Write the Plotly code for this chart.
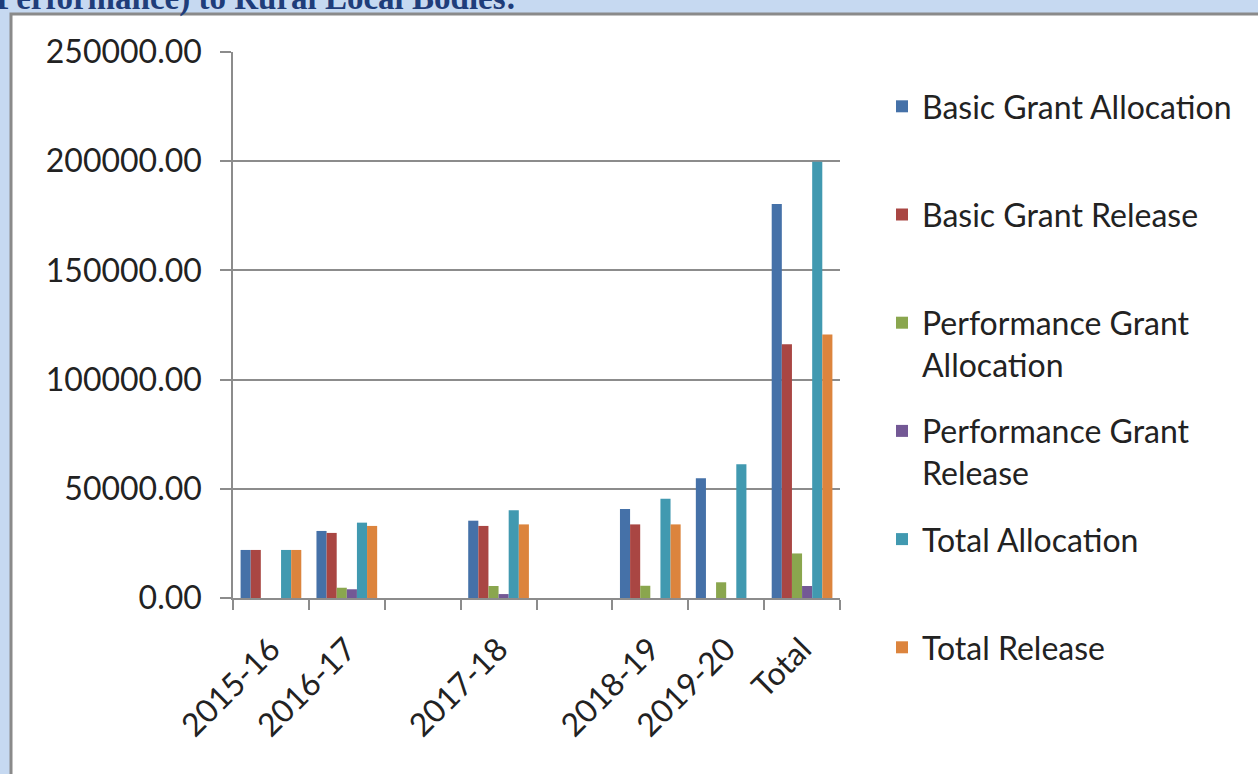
import plotly.graph_objects as go

# ---- data ----
categories = ["2015-16", "2016-17", " ", "2017-18", "  ", "2018-19", "2019-20", "Total"]
basic_alloc = [22000, 30700, None, 35400, None, 40750, 54800, 180400]
basic_release = [22000, 29800, None, 33000, None, 33700, None, 116200]
perf_alloc = [None, 4700, None, 5500, None, 5600, 7200, 20400]
perf_release = [None, 4000, None, 1800, None, None, None, 5500]
total_alloc = [22000, 34500, None, 40200, None, 45500, 61200, 199700]
total_release = [22000, 33000, None, 33700, None, 33700, None, 120700]

series_names = [
    "Basic Grant Allocation<br> ",
    "Basic Grant Release<br> ",
    "Performance Grant<br>Allocation",
    "Performance Grant<br>Release",
    "Total Allocation<br> ",
    "Total Release<br> ",
]
series_values = [basic_alloc, basic_release, perf_alloc, perf_release, total_alloc, total_release]
colors = ["#4571A8", "#A94643", "#8AA64E", "#735895", "#4199B0", "#DC843D"]

# ---- geometry of the plot area (pixels) ----
W, H = 1258, 774
PL, PR, PT, PB = 233, 840, 52, 598
pw, ph = PR - PL, PB - PT

def px_x(p):
    return (p - PL) / pw

def px_y(p):
    return (PB - p) / ph

FONT = "Lato"
FS = 32
fig = go.Figure()
for name, vals, col in zip(series_names, series_values, colors):
    fig.add_trace(go.Bar(
        x=categories, y=vals, name=name,
        marker=dict(color=col, line=dict(width=0)),
        legendgroup=name,
    ))

# white panel with gray border
fig.add_shape(type="rect", xref="paper", yref="paper",
              x0=px_x(11), x1=px_x(1275), y0=px_y(790), y1=px_y(14),
              fillcolor="white", line=dict(color="#8a8a8a", width=3), layer="below")

# cut-off heading at the top of the page
fig.add_annotation(xref="paper", yref="paper", x=px_x(-6), y=px_y(12),
                   xanchor="left", yanchor="bottom", yshift=-7,
                   text="<b>Performance) to Rural Local Bodies:</b>", showarrow=False,
                   font=dict(family="Liberation Serif", size=33, color="#1F3D7A"))

fig.update_layout(
    width=W, height=H,
    margin=dict(l=PL, r=W - PR, t=PT, b=H - PB, pad=0),
    paper_bgcolor="#C6D9F1",
    plot_bgcolor="rgba(0,0,0,0)",
    barmode="group", bargap=0.2, bargroupgap=0,
    font=dict(family=FONT, size=FS, color="#222222"),
    showlegend=True,
    legend=dict(
        x=px_x(882), y=px_y(79), xanchor="left", yanchor="top",
        font=dict(family=FONT, size=FS, color="#222222"),
        bgcolor="rgba(0,0,0,0)", borderwidth=0,
        valign="top", tracegroupgap=22, traceorder="grouped",
        maxheight=760,
    ),
)
fig.update_yaxes(
    range=[0, 250000], dtick=50000, tickformat=".2f",
    showgrid=True, gridcolor="#8c8c8c", gridwidth=1.5,
    showline=True, linecolor="#8c8c8c", linewidth=1.5,
    ticks="outside", ticklen=11, tickcolor="#8c8c8c", tickwidth=1.5,
    tickfont=dict(family=FONT, size=FS, color="#222222"),
    ticklabelstandoff=12,
    zeroline=False, fixedrange=True,
)
fig.update_xaxes(
    type="category", tickangle=-45, tickson="boundaries",
    showline=True, linecolor="#8c8c8c", linewidth=1.5,
    ticks="outside", ticklen=10, tickcolor="#8c8c8c", tickwidth=1.5,
    tickfont=dict(family=FONT, size=FS, color="#222222"),
    ticklabelstandoff=18,
    showgrid=False, fixedrange=True,
)

fig.write_html(
    "out.html",
    config={"displayModeBar": False},
    post_script="document.body.style.margin='0';document.body.style.background='#C6D9F1';",
)
